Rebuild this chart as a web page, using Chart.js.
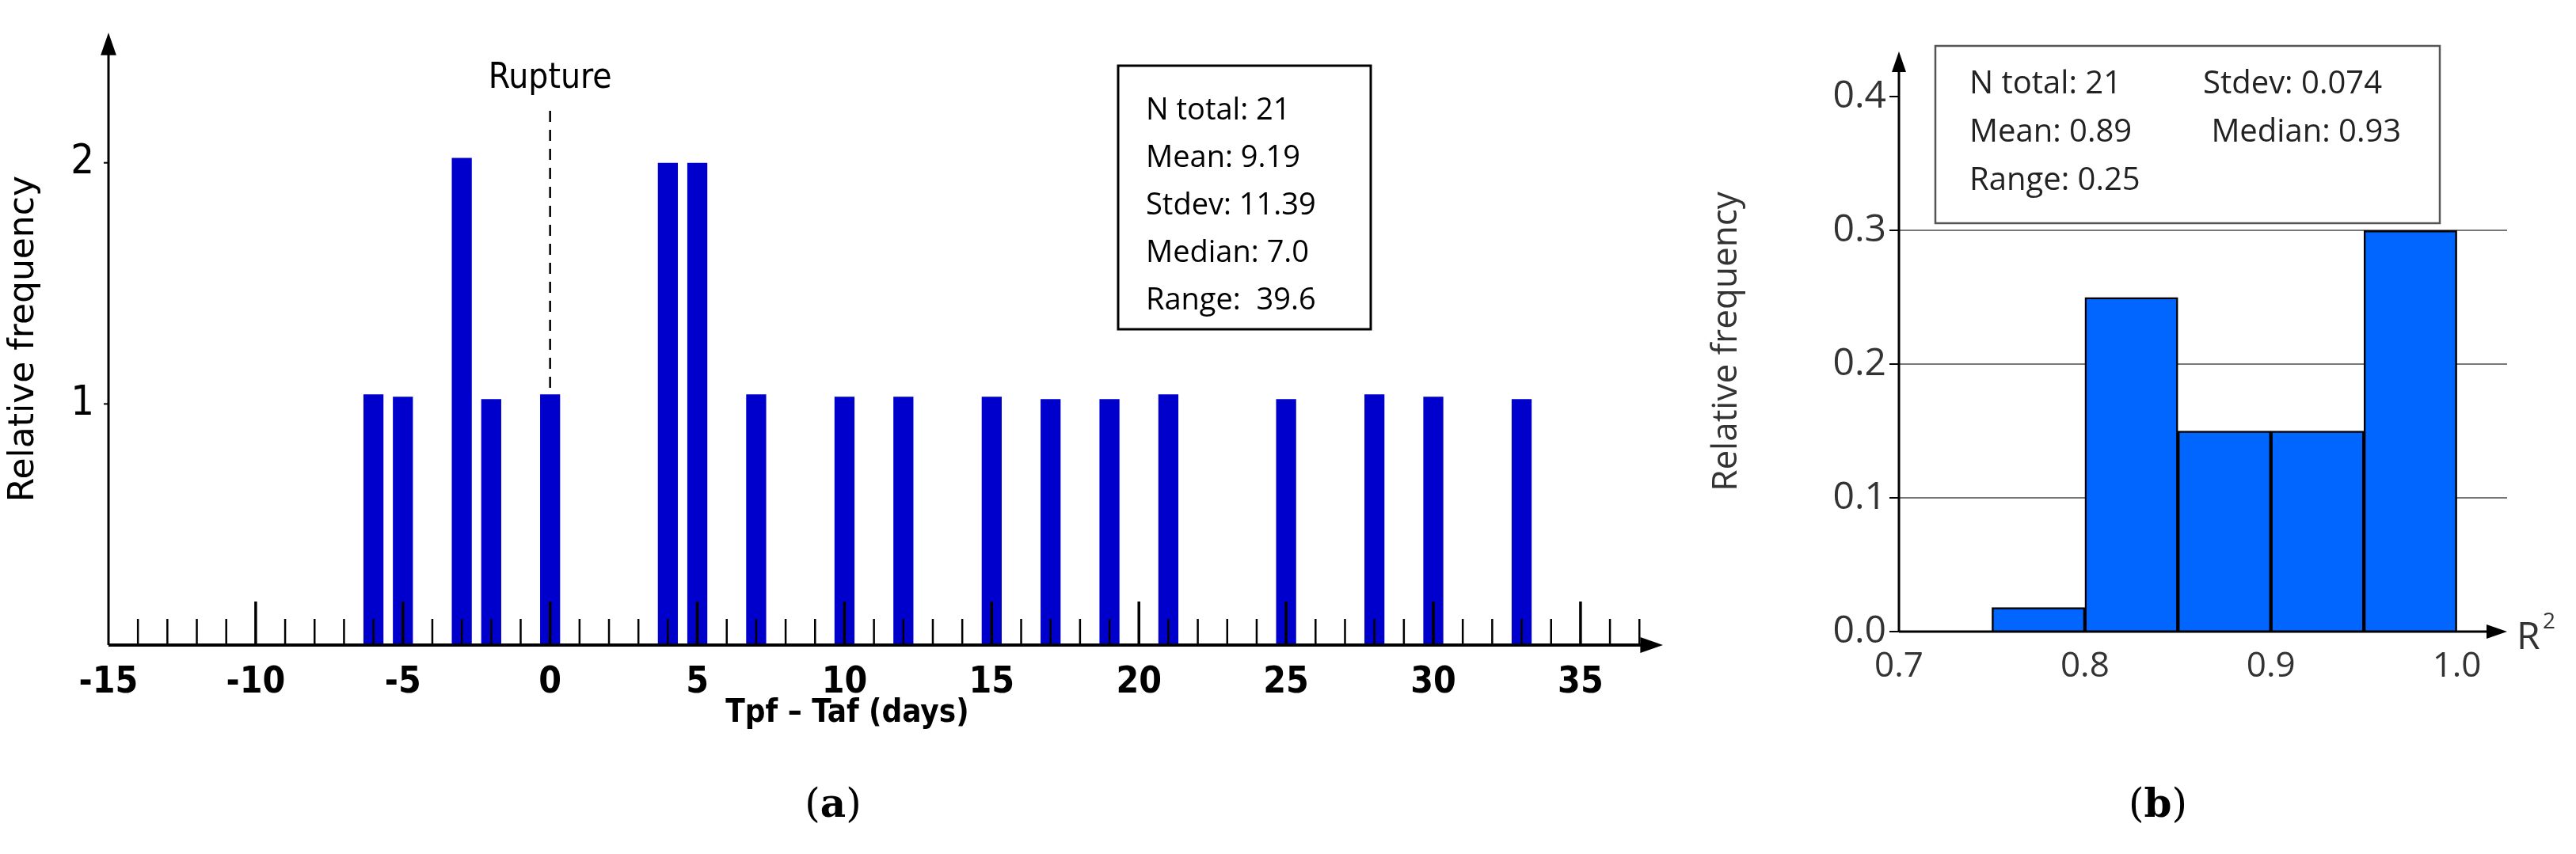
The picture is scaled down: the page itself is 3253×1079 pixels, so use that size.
<!DOCTYPE html>
<html><head><meta charset="utf-8">
<script src="https://cdn.jsdelivr.net/npm/chart.js@4"></script>
<style>
html,body{margin:0;padding:0;background:#fff;width:3253px;height:1079px;overflow:hidden;position:relative}
.lab{position:absolute;font-family:"DejaVu Serif","Liberation Serif",serif;font-size:50px;transform:translateX(-50%)}
</style></head><body>
<div id="wa" style="position:absolute;left:0;top:0;width:2150px;height:1079px"><canvas id="ca"></canvas></div>
<div id="wb" style="position:absolute;left:2150px;top:0;width:1103px;height:1079px"><canvas id="cb"></canvas></div>
<div class="lab" style="left:1052px;top:985px">(<b>a</b>)</div>
<div class="lab" style="left:2725px;top:985px">(<b>b</b>)</div>
<script>
// Panel (a)
const daysX = [-6,-5,-3,-2,0,4,5,7,10,12,15,17,19,21,25,28,30,33];
const countsA = [1.04,1.03,2.02,1.02,1.04,2,2,1.04,1.03,1.03,1.03,1.02,1.02,1.04,1.02,1.04,1.03,1.02];
const statsA = ["N total: 21","Mean: 9.19","Stdev: 11.39","Median: 7.0","Range:  39.6"];
// Panel (b)
const r2Centers = [0.775,0.825,0.875,0.925,0.975];
const freqB = [0.018,0.25,0.15,0.15,0.3];
const statsB = [["N total: 21","Stdev: 0.074"],["Mean: 0.89"," Median: 0.93"],["Range: 0.25",""]];
const ticksB_x = [0.7,0.8,0.9,1.0];

const NARROW='"DejaVu Sans Condensed","Liberation Sans Narrow",sans-serif';

function arrow(ctx,x,y,dir,s){ctx.beginPath();
 if(dir==='up'){ctx.moveTo(x,y);ctx.lineTo(x-s*0.45,y+s*1.3);ctx.lineTo(x+s*0.45,y+s*1.3);}
 else{ctx.moveTo(x,y);ctx.lineTo(x-s*1.3,y-s*0.45);ctx.lineTo(x-s*1.3,y+s*0.45);}
 ctx.closePath();ctx.fill();}

const axesA={id:'axesA',afterDatasetsDraw(c){const ctx=c.ctx,a=c.chartArea,xs=c.scales.x,ys=c.scales.y;
 ctx.save();ctx.strokeStyle='#000';ctx.fillStyle='#000';ctx.lineWidth=4;
 const y0=ys.getPixelForValue(0);
 ctx.beginPath();ctx.moveTo(a.left,y0);ctx.lineTo(a.right-20,y0);ctx.stroke();
 arrow(ctx,a.right,y0,'right',22);
 ctx.lineWidth=3;ctx.beginPath();ctx.moveTo(a.left,y0);ctx.lineTo(a.left,a.top+20);ctx.stroke();
 arrow(ctx,a.left,a.top,'up',22);
 for(let v=-14;v<=37;v++){const px=xs.getPixelForValue(v);const h=(v%5===0)?55:33;
  ctx.lineWidth=(v%5===0)?3.5:2.5;ctx.beginPath();ctx.moveTo(px,y0);ctx.lineTo(px,y0-h);ctx.stroke();}
 for(const v of [1,2]){const py=ys.getPixelForValue(v);ctx.lineWidth=2;ctx.beginPath();ctx.moveTo(a.left,py);ctx.lineTo(a.left-6,py);ctx.stroke();}
 const rx=xs.getPixelForValue(0);ctx.lineWidth=2.5;ctx.setLineDash([14,10]);
 ctx.beginPath();ctx.moveTo(rx,140);ctx.lineTo(rx,ys.getPixelForValue(1.04));ctx.stroke();ctx.setLineDash([]);
 ctx.font='44px '+NARROW;ctx.textAlign='center';ctx.textBaseline='middle';
 ctx.fillText('Rupture',rx,100);
 ctx.font='bold 40px '+NARROW;ctx.fillText('Tpf – Taf (days)',1070,902);
 ctx.lineWidth=3;ctx.strokeRect(1412,83,319,333);
 ctx.font='38px "Open Sans",sans-serif';ctx.textAlign='left';
 statsA.forEach((t,i)=>ctx.fillText(t,1447,140+i*60));
 ctx.restore();}};

new Chart(document.getElementById('ca'),{type:'bar',
 data:{datasets:[{data:daysX.map((x,i)=>({x,y:countsA[i]})),backgroundColor:'#0000cc',barPercentage:0.68,categoryPercentage:1}]},
 options:{responsive:true,maintainAspectRatio:false,animation:false,
  layout:{padding:{top:24,right:50,left:0,bottom:0}},
  plugins:{legend:{display:false},tooltip:{enabled:false}},
  scales:{
   x:{type:'linear',offset:false,min:-15,max:37.8,afterFit:s=>{s.height=264},grid:{display:false},border:{display:false},
      afterBuildTicks:s=>{s.ticks=[-15,-10,-5,0,5,10,15,20,25,30,35].map(v=>({value:v}))},
      ticks:{autoSkip:false,maxRotation:0,padding:12,color:'#000',font:{family:NARROW,size:46,weight:'bold'},callback:v=>String(v)}},
   y:{min:0,max:2.54,afterFit:s=>{s.width=137},grid:{display:false},border:{display:false},
      afterBuildTicks:s=>{s.ticks=[{value:1},{value:2}]},
      ticks:{autoSkip:false,color:'#000',padding:10,font:{family:NARROW,size:52},callback:v=>String(v)},
      title:{display:true,text:'Relative frequency',color:'#000',padding:{bottom:0},font:{family:'"DejaVu Sans",sans-serif',size:44}}}}},
 plugins:[axesA]});

const axesB={id:'axesB',afterDatasetsDraw(c){const ctx=c.ctx,a=c.chartArea,ys=c.scales.y;
 ctx.save();ctx.strokeStyle='#000';ctx.fillStyle='#000';ctx.lineWidth=3;
 const y0=ys.getPixelForValue(0);
 ctx.beginPath();ctx.moveTo(a.left,y0);ctx.lineTo(a.right-18,y0);ctx.stroke();arrow(ctx,a.right,y0,'right',20);
 ctx.beginPath();ctx.moveTo(a.left,y0);ctx.lineTo(a.left,a.top+18);ctx.stroke();arrow(ctx,a.left,a.top,'up',20);
 ctx.fillStyle='#333';ctx.font='48px "Open Sans",sans-serif';ctx.textBaseline='middle';ctx.textAlign='left';
 ctx.fillText('R',a.right+12,y0+8);ctx.font='28px "Open Sans",sans-serif';ctx.fillText('2',a.right+45,y0-12);
 ctx.fillStyle='#fff';ctx.fillRect(294,58,637,224);ctx.strokeStyle='#555';ctx.lineWidth=2.5;ctx.strokeRect(294,58,637,224);
 ctx.fillStyle='#222';ctx.font='40px "Open Sans",sans-serif';
 statsB.forEach((r,i)=>{ctx.fillText(r[0],337,107+i*61);ctx.fillText(r[1],632,107+i*61);});
 ctx.restore();}};

new Chart(document.getElementById('cb'),{type:'bar',
 data:{datasets:[{data:r2Centers.map((x,i)=>({x,y:freqB[i]})),backgroundColor:'#0066ff',borderColor:'#000',borderWidth:2.5,barPercentage:1,categoryPercentage:1}]},
 options:{responsive:true,maintainAspectRatio:false,animation:false,
  layout:{padding:{top:65,right:87,left:0,bottom:0}},
  plugins:{legend:{display:false},tooltip:{enabled:false}},
  scales:{
   x:{type:'linear',offset:false,min:0.7,max:1.027,afterFit:s=>{s.height=281},grid:{display:false},border:{display:false},
      afterBuildTicks:s=>{s.ticks=ticksB_x.map(v=>({value:v}))},
      ticks:{autoSkip:false,maxRotation:0,padding:10,color:'#333',font:{family:'"Open Sans",sans-serif',size:44},callback:v=>v.toFixed(1)}},
   y:{min:0,max:0.434,afterFit:s=>{s.width=248},border:{display:false},
      afterBuildTicks:s=>{s.ticks=[0,0.1,0.2,0.3,0.4].map(v=>({value:v}))},
      grid:{drawOnChartArea:true,color:ctx=>(ctx.tick&&(ctx.tick.value>0.05&&ctx.tick.value<0.35))?'#777':'rgba(0,0,0,0)',lineWidth:2,borderDash:[6,5],tickLength:12,tickColor:'#000',tickBorderDash:[]},
      ticks:{color:'#333',padding:4,font:{family:'"Open Sans",sans-serif',size:48},callback:v=>v.toFixed(1)},
      title:{display:true,text:'Relative frequency',color:'#333',padding:{bottom:10},font:{family:'"Open Sans",sans-serif',size:44}}}}},
 plugins:[axesB]});
</script></body></html>
